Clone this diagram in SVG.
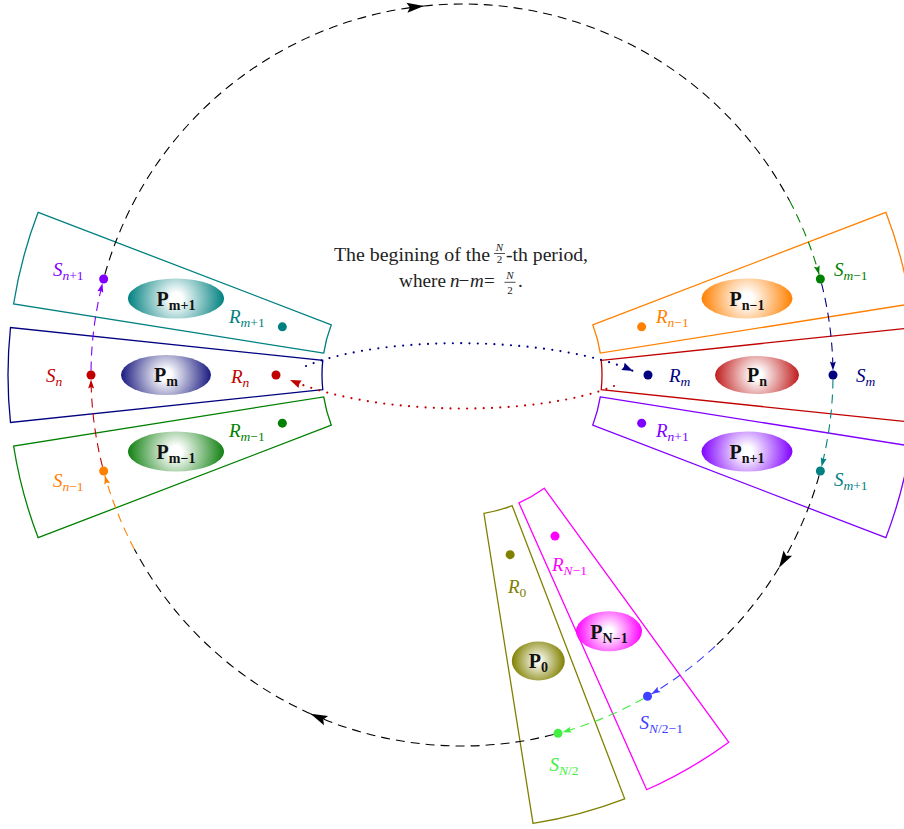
<svg xmlns="http://www.w3.org/2000/svg" width="904" height="829" viewBox="0 0 904 829">
<style>
.sec{fill:none;stroke-width:1.3}
.arc{fill:none;stroke-width:1.1;stroke-dasharray:9 6}
.dot2{fill:none;stroke-width:2.2;stroke-dasharray:0 8.3;stroke-linecap:round}
.lab{font-family:"Liberation Serif",serif;font-size:19px;font-style:italic}
.sub{font-size:13.5px}
.up{font-style:normal}
.plab{font-family:"Liberation Serif",serif;font-size:20px;font-weight:bold;fill:#111;text-anchor:middle}
.ps{font-size:14px}
.hd{font-family:"Liberation Serif",serif;font-size:19px;fill:#222}
.hf{font-family:"Liberation Serif",serif;font-size:11px;fill:#222;text-anchor:middle}
</style>
<defs>
<radialGradient id="gPm1" gradientUnits="userSpaceOnUse" cx="176" cy="298.4" r="48"><stop offset="0" stop-color="#fff"/><stop offset="0.12" stop-color="#fff"/><stop offset="1" stop-color="#008080"/></radialGradient>
<radialGradient id="gPm" gradientUnits="userSpaceOnUse" cx="166" cy="375" r="45"><stop offset="0" stop-color="#fff"/><stop offset="0.12" stop-color="#fff"/><stop offset="1" stop-color="#1a1a80"/></radialGradient>
<radialGradient id="gPm_1" gradientUnits="userSpaceOnUse" cx="176" cy="451.6" r="48"><stop offset="0" stop-color="#fff"/><stop offset="0.12" stop-color="#fff"/><stop offset="1" stop-color="#108010"/></radialGradient>
<radialGradient id="gPn_1" gradientUnits="userSpaceOnUse" cx="747" cy="298.4" r="45.5"><stop offset="0" stop-color="#fff"/><stop offset="0.12" stop-color="#fff"/><stop offset="1" stop-color="#ff8000"/></radialGradient>
<radialGradient id="gPn" gradientUnits="userSpaceOnUse" cx="757" cy="375" r="42"><stop offset="0" stop-color="#fff"/><stop offset="0.12" stop-color="#fff"/><stop offset="1" stop-color="#c01c1c"/></radialGradient>
<radialGradient id="gPn1" gradientUnits="userSpaceOnUse" cx="747" cy="451.6" r="45.5"><stop offset="0" stop-color="#fff"/><stop offset="0.12" stop-color="#fff"/><stop offset="1" stop-color="#8000ff"/></radialGradient>
<radialGradient id="gPN_1" gradientUnits="userSpaceOnUse" cx="609" cy="631.3" r="33"><stop offset="0" stop-color="#fff"/><stop offset="0.12" stop-color="#fff"/><stop offset="1" stop-color="#ff00ff"/></radialGradient>
<radialGradient id="gP0" gradientUnits="userSpaceOnUse" cx="538.3" cy="660.9" r="26.5"><stop offset="0" stop-color="#f6f6ea"/><stop offset="0.12" stop-color="#f6f6ea"/><stop offset="1" stop-color="#808000"/></radialGradient>
<marker id="mBlack" markerUnits="userSpaceOnUse" markerWidth="17" markerHeight="10" refX="17" refY="5" orient="auto" overflow="visible"><path d="M0,0 L17,5 L0,10 L3,5 Z" fill="#000"/></marker>
<marker id="mOrange" markerUnits="userSpaceOnUse" markerWidth="9" markerHeight="6" refX="9" refY="3" orient="auto" overflow="visible"><path d="M0,0 L9,3 L0,6 L1.5,3 Z" fill="#ff8000"/></marker>
<marker id="mRed" markerUnits="userSpaceOnUse" markerWidth="9" markerHeight="6" refX="9" refY="3" orient="auto" overflow="visible"><path d="M0,0 L9,3 L0,6 L1.5,3 Z" fill="#c00000"/></marker>
<marker id="mViolet" markerUnits="userSpaceOnUse" markerWidth="9" markerHeight="6" refX="9" refY="3" orient="auto" overflow="visible"><path d="M0,0 L9,3 L0,6 L1.5,3 Z" fill="#8000ff"/></marker>
<marker id="mGreen" markerUnits="userSpaceOnUse" markerWidth="9" markerHeight="6" refX="9" refY="3" orient="auto" overflow="visible"><path d="M0,0 L9,3 L0,6 L1.5,3 Z" fill="#008000"/></marker>
<marker id="mNavy" markerUnits="userSpaceOnUse" markerWidth="9" markerHeight="6" refX="9" refY="3" orient="auto" overflow="visible"><path d="M0,0 L9,3 L0,6 L1.5,3 Z" fill="#000080"/></marker>
<marker id="mTeal" markerUnits="userSpaceOnUse" markerWidth="9" markerHeight="6" refX="9" refY="3" orient="auto" overflow="visible"><path d="M0,0 L9,3 L0,6 L1.5,3 Z" fill="#008080"/></marker>
<marker id="mBlue" markerUnits="userSpaceOnUse" markerWidth="9" markerHeight="6" refX="9" refY="3" orient="auto" overflow="visible"><path d="M0,0 L9,3 L0,6 L1.5,3 Z" fill="#4040ff"/></marker>
<marker id="mLGreen" markerUnits="userSpaceOnUse" markerWidth="9" markerHeight="6" refX="9" refY="3" orient="auto" overflow="visible"><path d="M0,0 L9,3 L0,6 L1.5,3 Z" fill="#40f040"/></marker>
<marker id="mdNavy" markerUnits="userSpaceOnUse" markerWidth="11" markerHeight="8" refX="11" refY="4" orient="auto" overflow="visible"><path d="M0,0 L11,4 L0,8 L1,4 Z" fill="#000080"/></marker>
<marker id="mdRed" markerUnits="userSpaceOnUse" markerWidth="11" markerHeight="8" refX="11" refY="4" orient="auto" overflow="visible"><path d="M0,0 L11,4 L0,8 L1,4 Z" fill="#c00000"/></marker>
</defs>
<rect width="904" height="829" fill="#fff"/>

<g id="title">
<text class="hd" x="334" y="260.5" textLength="156" lengthAdjust="spacingAndGlyphs">The begining of the</text>
<text class="hf" x="499.5" y="250.5" font-style="italic">N</text>
<line x1="494" y1="253.5" x2="505" y2="253.5" stroke="#222" stroke-width="0.8"/>
<text class="hf" x="499.5" y="263">2</text>
<text class="hd" x="506" y="260.5" textLength="82" lengthAdjust="spacingAndGlyphs">-th period,</text>
<text class="hd" x="399" y="287" textLength="47" lengthAdjust="spacingAndGlyphs">where</text>
<text class="hd" x="450" y="287" font-style="italic">n</text>
<text class="hd" x="458.5" y="287">−</text>
<text class="hd" x="470" y="287" font-style="italic">m</text>
<text class="hd" x="484" y="287">=</text>
<text class="hf" x="510" y="279" font-style="italic">N</text>
<line x1="504.5" y1="282.3" x2="515.5" y2="282.3" stroke="#222" stroke-width="0.8"/>
<text class="hf" x="510" y="293.5">2</text>
<text class="hd" x="518" y="287">.</text>
</g>

<g id="P_m_plus_1">
<path class="sec" stroke="#008080" d="M 323.72,353.10 L 13.59,303.98 A 454 454 0 0 1 38.15,212.30 L 331.30,324.83 A 140 140 0 0 0 323.72,353.10 Z"/>
<ellipse cx="176" cy="298.4" rx="48" ry="20" fill="url(#gPm1)"/>
<text class="plab" x="176" y="305.5">P<tspan class="ps" dy="4">m+1</tspan></text>
</g>
<g id="P_m">
<path class="sec" stroke="#000080" d="M 322.77,389.63 L 10.49,422.46 A 454 454 0 0 1 10.49,327.54 L 322.77,360.37 A 140 140 0 0 0 322.77,389.63 Z"/>
<ellipse cx="166" cy="375" rx="45" ry="20" fill="url(#gPm)"/>
<text class="plab" x="166" y="382.2">P<tspan class="ps" dy="4">m</tspan></text>
</g>
<g id="P_m_minus_1">
<path class="sec" stroke="#008000" d="M 331.30,425.17 L 38.15,537.70 A 454 454 0 0 1 13.59,446.02 L 323.72,396.90 A 140 140 0 0 0 331.30,425.17 Z"/>
<ellipse cx="176" cy="451.6" rx="48" ry="20" fill="url(#gPm_1)"/>
<text class="plab" x="176" y="458.8">P<tspan class="ps" dy="4">m−1</tspan></text>
</g>
<g id="P_n_minus_1">
<path class="sec" stroke="#ff8000" d="M 592.70,324.83 L 885.85,212.30 A 454 454 0 0 1 910.41,303.98 L 600.28,353.10 A 140 140 0 0 0 592.70,324.83 Z"/>
<ellipse cx="747" cy="298.4" rx="45.5" ry="20" fill="url(#gPn_1)"/>
<text class="plab" x="747" y="305.5">P<tspan class="ps" dy="4">n−1</tspan></text>
</g>
<g id="P_n">
<path class="sec" stroke="#c00000" d="M 601.23,360.37 L 913.51,327.54 A 454 454 0 0 1 913.51,422.46 L 601.23,389.63 A 140 140 0 0 0 601.23,360.37 Z"/>
<ellipse cx="757" cy="375" rx="42" ry="19" fill="url(#gPn)"/>
<text class="plab" x="757" y="382.2">P<tspan class="ps" dy="4">n</tspan></text>
</g>
<g id="P_n_plus_1">
<path class="sec" stroke="#8000ff" d="M 600.28,396.90 L 910.41,446.02 A 454 454 0 0 1 885.85,537.70 L 592.70,425.17 A 140 140 0 0 0 600.28,396.90 Z"/>
<ellipse cx="747" cy="451.6" rx="45.5" ry="20" fill="url(#gPn1)"/>
<text class="plab" x="747" y="458.8">P<tspan class="ps" dy="4">n+1</tspan></text>
</g>
<g id="P_N_minus_1">
<path class="sec" stroke="#ff00ff" d="M 544.29,488.26 L 728.85,742.29 A 454 454 0 0 1 646.66,789.75 L 518.94,502.90 A 140 140 0 0 0 544.29,488.26 Z"/>
<ellipse cx="609" cy="631.3" rx="33" ry="20" fill="url(#gPN_1)"/>
<text class="plab" x="609" y="638.5">P<tspan class="ps" dy="4">N−1</tspan></text>
</g>
<g id="P_0">
<path class="sec" stroke="#808000" d="M 512.17,505.70 L 624.70,798.85 A 454 454 0 0 1 533.02,823.41 L 483.90,513.28 A 140 140 0 0 0 512.17,505.70 Z"/>
<ellipse cx="538.3" cy="660.9" rx="26.5" ry="19.5" fill="url(#gP0)"/>
<text class="plab" x="538.3" y="668">P<tspan class="ps" dy="4">0</tspan></text>
</g>

<g id="connectors">
<path class="arc" stroke="#ff8000" marker-end="url(#mOrange)" d="M 134.43,549.17 A 371 371 0 0 1 104.84,475.39"/>
<path class="arc" stroke="#c00000" marker-end="url(#mRed)" d="M 102.49,466.64 A 371 371 0 0 1 91.03,379.53"/>
<path class="arc" stroke="#8000ff" marker-end="url(#mViolet)" d="M 91.03,370.47 A 371 371 0 0 1 102.49,283.36"/>
<path class="arc" stroke="#000" marker-end="url(#mBlack)" d="M 104.84,274.61 A 371 371 0 0 1 423.86,5.97"/>
<path class="arc" stroke="#000" d="M 423.86,5.97 A 371 371 0 0 1 789.57,200.83"/>
<path class="arc" stroke="#008000" marker-end="url(#mGreen)" d="M 789.57,200.83 A 371 371 0 0 1 819.16,274.61"/>
<path class="arc" stroke="#000080" marker-end="url(#mNavy)" d="M 821.51,283.36 A 371 371 0 0 1 832.97,370.47"/>
<path class="arc" stroke="#008080" marker-end="url(#mTeal)" d="M 832.97,379.53 A 371 371 0 0 1 821.51,466.64"/>
<path class="arc" stroke="#000" marker-end="url(#mBlack)" d="M 819.16,475.39 A 371 371 0 0 1 778.99,567.74"/>
<path class="arc" stroke="#000" d="M 778.99,567.74 A 371 371 0 0 1 715.02,646.33"/>
<path class="arc" stroke="#4040ff" marker-end="url(#mBlue)" d="M 715.02,646.33 A 371 371 0 0 1 651.42,694.00"/>
<path class="arc" stroke="#40f040" marker-end="url(#mLGreen)" d="M 643.56,698.54 A 371 371 0 0 1 562.39,732.16"/>
<path class="arc" stroke="#000" marker-end="url(#mBlack)" d="M 553.64,734.51 A 371 371 0 0 1 310.51,713.66"/>
<path class="arc" stroke="#000" d="M 310.51,713.66 A 371 371 0 0 1 134.43,549.17"/>
<path class="dot2" stroke="#000080" marker-end="url(#mdNavy)" d="M 306,366 C 390,332 560,338 633,371"/>
<path class="dot2" stroke="#c00000" marker-end="url(#mdRed)" d="M 614,386 C 540,416 380,418 290,380"/>
</g>

<g id="S_n_plus_1"><circle cx="103.64" cy="278.98" r="4.5" fill="#8000ff"/><text class="lab" x="53" y="276" fill="#8000ff">S<tspan class="sub" dy="4">n</tspan><tspan class="sub up">+1</tspan></text></g>
<g id="S_n"><circle cx="91" cy="375" r="4.5" fill="#c00000"/><text class="lab" x="46" y="382" fill="#c00000">S<tspan class="sub" dy="4">n</tspan></text></g>
<g id="S_n_minus_1"><circle cx="103.64" cy="471.02" r="4.5" fill="#ff8000"/><text class="lab" x="53" y="486.5" fill="#ff8000">S<tspan class="sub" dy="4">n</tspan><tspan class="sub up">−1</tspan></text></g>
<g id="R_m_plus_1"><circle cx="282.34" cy="326.86" r="4.5" fill="#008080"/><text class="lab" x="229" y="323.3" fill="#008080">R<tspan class="sub" dy="4">m</tspan><tspan class="sub up">+1</tspan></text></g>
<g id="R_n"><circle cx="276" cy="375" r="4.5" fill="#c00000"/><text class="lab" x="231" y="382.5" fill="#c00000">R<tspan class="sub" dy="4">n</tspan></text></g>
<g id="R_m_minus_1"><circle cx="282.34" cy="423.14" r="4.5" fill="#008000"/><text class="lab" x="229" y="437.3" fill="#008000">R<tspan class="sub" dy="4">m</tspan><tspan class="sub up">−1</tspan></text></g>
<g id="R_n_minus_1"><circle cx="641.66" cy="326.86" r="4.5" fill="#ff8000"/><text class="lab" x="656" y="322.7" fill="#ff8000">R<tspan class="sub" dy="4">n</tspan><tspan class="sub up">−1</tspan></text></g>
<g id="R_m"><circle cx="648" cy="375" r="4.5" fill="#000080"/><text class="lab" x="669" y="381.7" fill="#000080">R<tspan class="sub" dy="4">m</tspan></text></g>
<g id="R_n_plus_1"><circle cx="641.66" cy="423.14" r="4.5" fill="#8000ff"/><text class="lab" x="656" y="436.7" fill="#8000ff">R<tspan class="sub" dy="4">n</tspan><tspan class="sub up">+1</tspan></text></g>
<g id="S_m_minus_1"><circle cx="820.36" cy="278.98" r="4.5" fill="#008000"/><text class="lab" x="834" y="276" fill="#008000">S<tspan class="sub" dy="4">m</tspan><tspan class="sub up">−1</tspan></text></g>
<g id="S_m"><circle cx="833" cy="375" r="4.5" fill="#000080"/><text class="lab" x="856" y="382" fill="#000080">S<tspan class="sub" dy="4">m</tspan></text></g>
<g id="S_m_plus_1"><circle cx="820.36" cy="471.02" r="4.5" fill="#008080"/><text class="lab" x="834" y="486" fill="#008080">S<tspan class="sub" dy="4">m</tspan><tspan class="sub up">+1</tspan></text></g>
<g id="R_0"><circle cx="510.14" cy="554.66" r="4.5" fill="#808000"/><text class="lab" x="508" y="593.3" fill="#808000">R<tspan class="sub up" dy="4">0</tspan></text></g>
<g id="R_N_minus_1"><circle cx="555" cy="536.08" r="4.5" fill="#ff00ff"/><text class="lab" x="552" y="570.7" fill="#ff00ff">R<tspan class="sub" dy="4">N</tspan><tspan class="sub up">−1</tspan></text></g>
<g id="S_N2_minus_1"><circle cx="647.5" cy="696.3" r="4.5" fill="#4040ff"/><text class="lab" x="639.5" y="729.3" fill="#4040ff">S<tspan class="sub" dy="4">N</tspan><tspan class="sub up">/2−1</tspan></text></g>
<g id="S_N2"><circle cx="558.02" cy="733.36" r="4.5" fill="#40f040"/><text class="lab" x="549.5" y="770.7" fill="#40f040">S<tspan class="sub" dy="4">N</tspan><tspan class="sub up">/2</tspan></text></g>
</svg>
